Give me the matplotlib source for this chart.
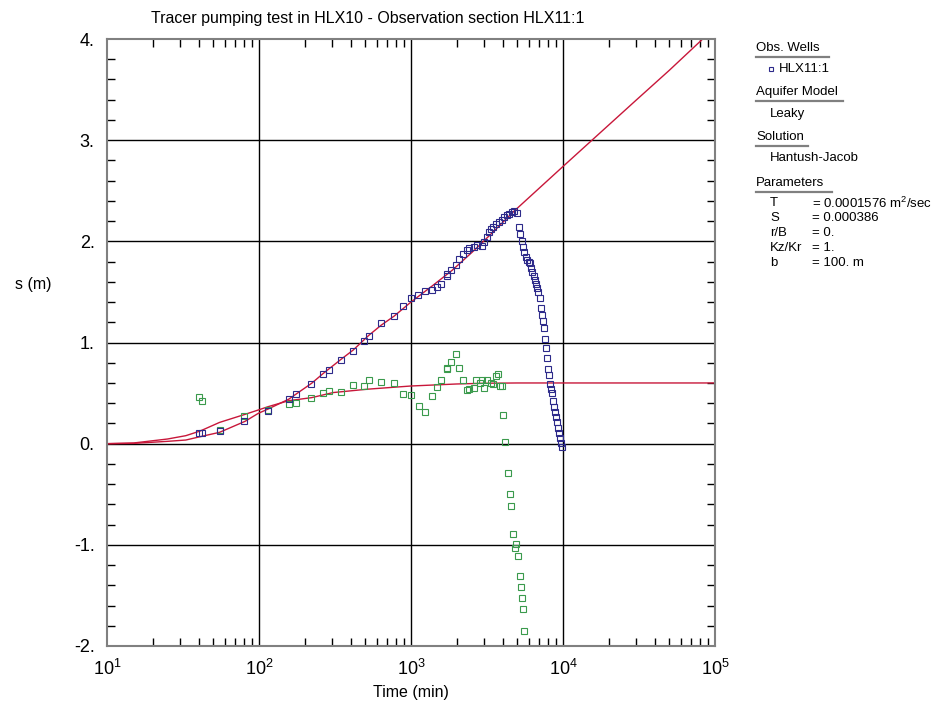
#!/usr/bin/env python
# -*- coding: utf-8 -*-
"""
Tracer pumping test HLX10, observation section HLX11:1
drawdown vs time with Hantush-Jacob fit
"""
import matplotlib
matplotlib.use('Agg')
import matplotlib.pyplot as plt
from matplotlib.lines import Line2D
from matplotlib.ticker import LogLocator, MultipleLocator, NullFormatter

# observed drawdown HLX11:1 (min, m)
t_obs = [40, 42, 55, 80, 115, 157, 175, 221, 265, 290, 345, 414, 493, 527, 635,
         773, 881, 1005, 1112, 1236, 1368, 1475, 1581, 1717, 1717, 1841, 1967,
         2078, 2209, 2324, 2421, 2596, 2730, 2918, 3020, 3147, 3258, 3357, 3478,
         3622, 3790, 3951, 4111, 4265, 4416, 4596, 4784, 4956, 5159, 5244, 5409,
         5487, 5530, 5677, 5766, 5943, 6066, 6152, 6279, 6442, 6545, 6645, 6779,
         6880, 7090, 7160, 7273, 7390, 7500, 7650, 7767, 7883, 8005, 8130, 8253,
         8378, 8505, 8634, 8765, 8898, 9032, 9169, 9270, 9460, 9550, 9700, 9880]
s_obs = [0.105, 0.11, 0.122, 0.224, 0.323, 0.442, 0.494, 0.593, 0.692, 0.725,
         0.827, 0.913, 1.012, 1.067, 1.19, 1.262, 1.361, 1.44, 1.467, 1.506,
         1.519, 1.546, 1.575, 1.657, 1.677, 1.714, 1.766, 1.822, 1.875, 1.911,
         1.937, 1.947, 1.964, 1.957, 1.996, 2.046, 2.096, 2.125, 2.145, 2.171,
         2.191, 2.211, 2.238, 2.257, 2.27, 2.29, 2.303, 2.277, 2.145, 2.07,
         2.003, 1.947, 1.892, 1.848, 1.816, 1.799, 1.783, 1.74, 1.7, 1.657,
         1.618, 1.575, 1.542, 1.502, 1.437, 1.338, 1.272, 1.216, 1.14, 1.032,
         0.943, 0.844, 0.741, 0.679, 0.593, 0.541, 0.498, 0.425, 0.366, 0.316,
         0.264, 0.211, 0.152, 0.103, 0.053, 0.01, -0.036]

# second (tracer) series, green
t_tr = [40, 42, 55, 80, 115, 158, 174, 221, 265, 290, 345, 414, 493, 527, 635,
        769, 881, 1005, 1122, 1241, 1368, 1475, 1581, 1717, 1717, 1841, 1967,
        2078, 2209, 2324, 2421, 2578, 2686, 2865, 2918, 3020, 3147, 3336, 3478,
        3610, 3758, 3830, 3951, 4049, 4170, 4325, 4460, 4528, 4667, 4811, 4887,
        5035, 5186, 5268, 5409, 5487, 5560]
s_tr = [0.458, 0.422, 0.135, 0.277, 0.333, 0.392, 0.402, 0.451, 0.498, 0.52,
        0.514, 0.577, 0.573, 0.626, 0.607, 0.603, 0.49, 0.481, 0.375, 0.31,
        0.474, 0.56, 0.63, 0.738, 0.75, 0.804, 0.886, 0.748, 0.626, 0.53,
        0.54, 0.55, 0.63, 0.597, 0.63, 0.547, 0.63, 0.603, 0.587, 0.669,
        0.689, 0.57, 0.573, 0.287, 0.012, -0.29, -0.494, -0.613, -0.896, -1.034,
        -0.992, -1.113, -1.308, -1.413, -1.528, -1.637, -1.851]

# fitted curves
t_fit_obs = [10, 15, 25, 33, 41, 55, 81, 99, 115, 157, 222, 265, 342, 417, 527,
             635, 773, 1000, 1370, 1860, 2600, 3500, 4700, 10000, 15000, 30000,
             50000, 83000, 100000]
s_fit_obs = [0.0, 0.003, 0.023, 0.036, 0.069, 0.112, 0.221, 0.30, 0.343, 0.44,
             0.597, 0.695, 0.827, 0.926, 1.07, 1.17, 1.26, 1.40, 1.556, 1.712,
             1.91, 2.098, 2.29, 2.74, 2.98, 3.39, 3.69, 4.0, 4.16]
t_fit_tr = [10, 15, 25, 33, 41, 55, 81, 99, 115, 157, 222, 307, 513, 760, 1000,
            2000, 3000, 5000, 10000, 100000]
s_fit_tr = [0.0, 0.007, 0.046, 0.079, 0.125, 0.21, 0.29, 0.333, 0.366, 0.425,
            0.455, 0.505, 0.538, 0.557, 0.57, 0.59, 0.597, 0.6, 0.6, 0.6]

x_ticks = [1e1, 1e2, 1e3, 1e4, 1e5]
x_ticklabels = [r'$\mathregular{10^{1}}$', r'$\mathregular{10^{2}}$',
                r'$\mathregular{10^{3}}$', r'$\mathregular{10^{4}}$',
                r'$\mathregular{10^{5}}$']
y_ticks = [-2, -1, 0, 1, 2, 3, 4]
y_ticklabels = ['-2.', '-1.', '0.', '1.', '2.', '3.', '4.']

params = [('T', '= 0.0001576 m$^{2}$/sec'), ('S', '= 0.000386'),
          ('r/B', '= 0.'), ('Kz/Kr', '= 1.'), ('b', '= 100. m')]

BLUE = '#2d2a8a'
GREEN = '#3a9a4c'
RED = '#c8173a'

W, H = 946, 713


def fx(px):
    return px / W


def fy(py):
    return 1 - py / H


def main():
    plt.rcParams['font.family'] = ['Liberation Sans', 'DejaVu Sans']
    plt.rcParams['mathtext.fontset'] = 'custom'
    plt.rcParams['mathtext.rm'] = 'Liberation Sans'

    fig = plt.figure(figsize=(W / 100, H / 100), dpi=100)
    ax = fig.add_axes([fx(107), fy(646), (715 - 107) / W, (646 - 39) / H])

    ax.set_xscale('log')
    ax.set_xlim(10, 1e5)
    ax.set_ylim(-2, 4)

    # grid
    for xv in x_ticks[1:-1]:
        ax.axvline(xv, color='black', lw=1.0, zorder=1)
    for yv in y_ticks[1:-1]:
        ax.axhline(yv, color='black', lw=1.0, zorder=1)

    # fits
    ax.plot(t_fit_obs, s_fit_obs, color=RED, lw=1.0, zorder=3)
    ax.plot(t_fit_tr, s_fit_tr, color=RED, lw=1.0, zorder=3)

    # data
    ax.plot(t_tr, s_tr, 's', mfc='none', mec=GREEN, ms=4, mew=0.8, zorder=4)
    ax.plot(t_obs, s_obs, 's', mfc='none', mec=BLUE, ms=4, mew=0.8, zorder=5)

    # ticks
    ax.set_xticks(x_ticks)
    ax.set_xticklabels(x_ticklabels, fontsize=13)
    ax.xaxis.set_minor_locator(LogLocator(base=10, subs=range(2, 10)))
    ax.xaxis.set_minor_formatter(NullFormatter())
    ax.set_yticks(y_ticks)
    ax.set_yticklabels(y_ticklabels, fontsize=13)
    ax.yaxis.set_minor_locator(MultipleLocator(0.2))
    ax.tick_params(which='major', length=0, pad=9)
    ax.tick_params(which='minor', direction='in', length=6, width=1,
                   color='black', top=True, right=True)

    for sp in ax.spines.values():
        sp.set_color('#808080')
        sp.set_linewidth(1.5)
        sp.set_zorder(6)

    fig.text(fx(368), fy(18), 'Tracer pumping test in HLX10 - Observation section HLX11:1',
             ha='center', va='center', fontsize=11.5)
    fig.text(fx(33), fy(285), 's (m)', ha='center', va='center', fontsize=11.5)
    fig.text(fx(411), fy(692), 'Time (min)', ha='center', va='center', fontsize=11.5)

    # side panel
    def header(py, text, x_end):
        fig.text(fx(756), fy(py), text, ha='left', va='center', fontsize=9.5)
        fig.add_artist(Line2D([fx(756), fx(x_end)], [fy(py + 9), fy(py + 9)],
                              color='#808080', lw=1.6))

    header(48, 'Obs. Wells', 829)
    fig.add_artist(Line2D([fx(771)], [fy(69)], marker='s', mfc='none', mec=BLUE,
                          ms=3.5, mew=0.8, ls='none'))
    fig.text(fx(779), fy(69), 'HLX11:1', ha='left', va='center', fontsize=9.5)
    header(92, 'Aquifer Model', 843)
    fig.text(fx(770), fy(114), 'Leaky', ha='left', va='center', fontsize=9.5)
    header(137, 'Solution', 808)
    fig.text(fx(770), fy(158), 'Hantush-Jacob', ha='left', va='center', fontsize=9.5)
    header(183, 'Parameters', 832)
    for i, (name, val) in enumerate(params):
        py = 203 + 15 * i
        fig.text(fx(770), fy(py), name, ha='left', va='center', fontsize=9.5)
        fig.text(fx(812), fy(py), val, ha='left', va='center', fontsize=9.5)

    fig.savefig('out.png', dpi=100)


if __name__ == '__main__':
    main()
